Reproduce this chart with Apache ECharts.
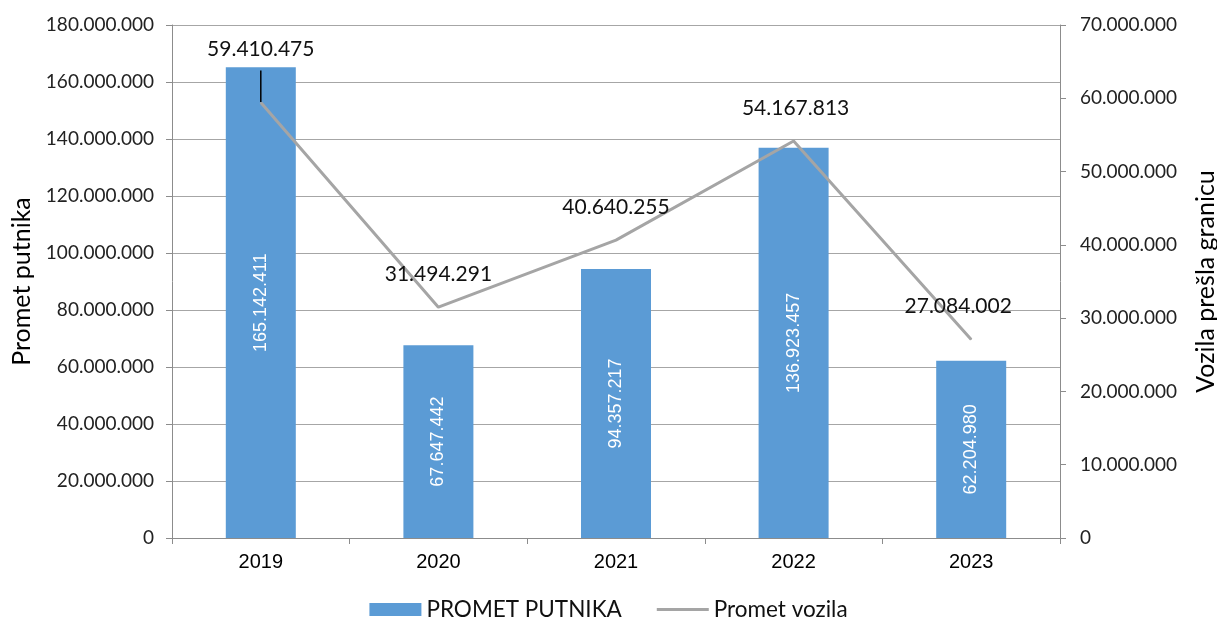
<!DOCTYPE html>
<html><head><meta charset="utf-8">
<script src="https://cdn.jsdelivr.net/npm/echarts@6/dist/echarts.min.js"></script>
<style>html,body{margin:0;padding:0;background:#fff}#c{width:1217px;height:626px}</style>
</head><body><div id="c"></div>
<script>
const categories = ['2019','2020','2021','2022','2023'];
const putnici = [165142411, 67647442, 94357217, 136923457, 62204980];
const vozila = [59410475, 31494291, 40640255, 54167813, 27084002];
const leftMax = 180000000, leftStep = 20000000;
const rightMax = 70000000, rightStep = 10000000;

function fmt(v){ return String(Math.round(v)).replace(/\B(?=(\d{3})+(?!\d))/g,'.'); }
const SANS = 'Lato, "Open Sans", sans-serif';
const ARIAL = '"Liberation Sans", Arial, sans-serif';

const lineOffsets = [[0,-37],[0,-17],[0,-17],[2,-17],[-13,-17]];

const chart = echarts.init(document.getElementById('c'));
chart.setOption({
  animation:false,
  grid:{left:172, right:157, top:25, bottom:88, outerBoundsMode:'none', containLabel:false},
  legend:{
    bottom:0, left:'center', itemGap:35, itemWidth:52, itemHeight:13,
    textStyle:{fontFamily:SANS, fontSize:22.5, color:'#111'},
    data:[{name:'PROMET PUTNIKA', icon:'rect'},
          {name:'Promet vozila', icon:'path://M0,0h100v6h-100z', itemStyle:{color:'#a5a5a5'}}]
  },
  xAxis:{
    type:'category', data:categories,
    axisLine:{lineStyle:{color:'#8c8c8c', width:1}},
    axisTick:{show:true, alignWithLabel:false, length:6, lineStyle:{color:'#8c8c8c'}},
    axisLabel:{fontFamily:ARIAL, fontSize:20, color:'#000', margin:14}
  },
  yAxis:[{
    type:'value', min:0, max:leftMax, interval:leftStep,
    name:'Promet putnika', nameLocation:'middle', nameGap:138, nameRotate:90,
    nameTextStyle:{fontFamily:SANS, fontSize:25, color:'#000'},
    axisLine:{show:true, lineStyle:{color:'#8c8c8c'}},
    axisTick:{show:true, length:6, lineStyle:{color:'#8c8c8c'}},
    splitLine:{lineStyle:{color:'#a6a6a6'}},
    axisLabel:{formatter:fmt, fontFamily:SANS, fontSize:19, color:'#222', margin:18}
  },{
    type:'value', min:0, max:rightMax, interval:rightStep, position:'right',
    name:'Vozila prešla granicu', nameLocation:'middle', nameGap:133, nameRotate:90,
    nameTextStyle:{fontFamily:SANS, fontSize:25, color:'#000'},
    axisLine:{show:true, lineStyle:{color:'#8c8c8c'}},
    axisTick:{show:true, length:6, lineStyle:{color:'#8c8c8c'}},
    splitLine:{show:false},
    axisLabel:{formatter:fmt, fontFamily:SANS, fontSize:19, color:'#222', margin:20}
  }],
  series:[{
    name:'PROMET PUTNIKA', type:'bar', data:putnici, barWidth:70,
    itemStyle:{color:'#5b9bd5'},
    label:{show:true, position:'inside', rotate:90, formatter:p=>fmt(p.value),
      fontFamily:ARIAL, fontSize:18, color:'#fff'}
  },{
    name:'Promet vozila', type:'line', yAxisIndex:1, z:5,
    data: vozila.map((v,i)=>({value:v, label:{offset:lineOffsets[i]},
      labelLine: i===0 ? {show:true, lineStyle:{color:'#000', width:1.5}} : undefined})),
    symbol:'circle', symbolSize:1, showSymbol:true,
    lineStyle:{color:'#a5a5a5', width:3}, itemStyle:{color:'#a5a5a5'},
    label:{show:true, position:'top', formatter:p=>fmt(p.value),
      fontFamily:SANS, fontSize:21, color:'#111'}
  }]
});
</script></body></html>
